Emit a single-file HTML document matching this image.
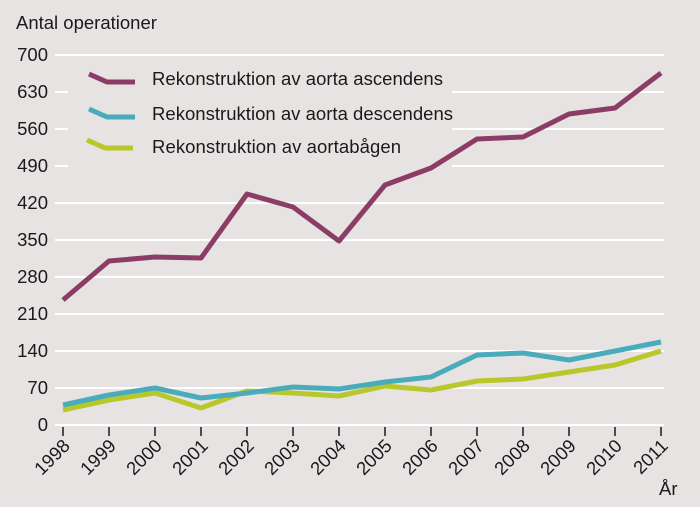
<!DOCTYPE html><html><head><style>body{margin:0;background:#e8e3e3}svg{display:block}text{font-family:"Liberation Sans",sans-serif;fill:#1a1a1a}</style></head><body>
<svg width="700" height="507" viewBox="0 0 700 507">
<rect width="700" height="507" fill="#e8e3e3"/>
<g stroke="#fff" stroke-width="2">
<line x1="55" y1="55" x2="664" y2="55"/>
<line x1="55" y1="92" x2="664" y2="92"/><line x1="55" y1="129" x2="664" y2="129"/><line x1="55" y1="166" x2="664" y2="166"/>
<line x1="55" y1="203" x2="664" y2="203"/><line x1="55" y1="240" x2="664" y2="240"/><line x1="55" y1="277" x2="664" y2="277"/>
<line x1="55" y1="314" x2="664" y2="314"/><line x1="55" y1="351" x2="664" y2="351"/><line x1="55" y1="388" x2="664" y2="388"/><line x1="55" y1="425" x2="664" y2="425"/>
</g>
<rect x="68" y="62" width="384" height="110" fill="#e8e3e3"/>
<g font-size="18.5" text-anchor="end">
<text x="48" y="61">700</text><text x="48" y="98">630</text><text x="48" y="135">560</text><text x="48" y="172">490</text><text x="48" y="209">420</text><text x="48" y="246">350</text><text x="48" y="283">280</text><text x="48" y="320">210</text><text x="48" y="357">140</text><text x="48" y="394">70</text><text x="48" y="431">0</text>
</g>
<text x="16" y="29" font-size="18.5">Antal operationer</text>
<g stroke="#1a1a1a" stroke-width="1.5">
<path d="M63 427v9M109 427v9M155 427v9M201 427v9M247 427v9M293 427v9M339 427v9M385 427v9M431 427v9M477 427v9M523 427v9M569 427v9M615 427v9M661 427v9"/>
</g>
<g font-size="18.5" text-anchor="end">
<text transform="translate(71,447) rotate(-45)">1998</text><text transform="translate(117,447) rotate(-45)">1999</text><text transform="translate(163,447) rotate(-45)">2000</text><text transform="translate(209,447) rotate(-45)">2001</text><text transform="translate(255,447) rotate(-45)">2002</text><text transform="translate(301,447) rotate(-45)">2003</text><text transform="translate(347,447) rotate(-45)">2004</text><text transform="translate(393,447) rotate(-45)">2005</text><text transform="translate(439,447) rotate(-45)">2006</text><text transform="translate(485,447) rotate(-45)">2007</text><text transform="translate(531,447) rotate(-45)">2008</text><text transform="translate(577,447) rotate(-45)">2009</text><text transform="translate(623,447) rotate(-45)">2010</text><text transform="translate(669,447) rotate(-45)">2011</text>
</g>
<text x="659" y="495" font-size="18.5">År</text>
<g fill="none" stroke-width="5" stroke-linejoin="round">
<polyline stroke="#b8c72a" points="63,410 109,400 155,393 201,408 247,391 293,393 339,396 385,386 431,390 477,381 523,379 569,372 615,365 661,351"/>
<polyline stroke="#4aabbb" points="63,405 109,395 155,388 201,398 247,393 293,387 339,389 385,382 431,377 477,355 523,353 569,360 615,351 661,342"/>
<polyline stroke="#8c3d66" points="63,300 109,261 155,257 201,258 247,194 293,207 339,241 385,185 431,168 477,139 523,137 569,114 615,108 661,73"/>
<path stroke="#8c3d66" d="M89 74L107 82H135"/>
<path stroke="#4aabbb" d="M89 109L107 117H135"/>
<path stroke="#b8c72a" d="M87 140L105 148H133"/>
</g>
<g font-size="18.5"><text x="152" y="85" textLength="291">Rekonstruktion av aorta ascendens</text><text x="152" y="120" textLength="301">Rekonstruktion av aorta descendens</text><text x="152" y="153" textLength="249">Rekonstruktion av aortabågen</text></g>
</svg></body></html>
